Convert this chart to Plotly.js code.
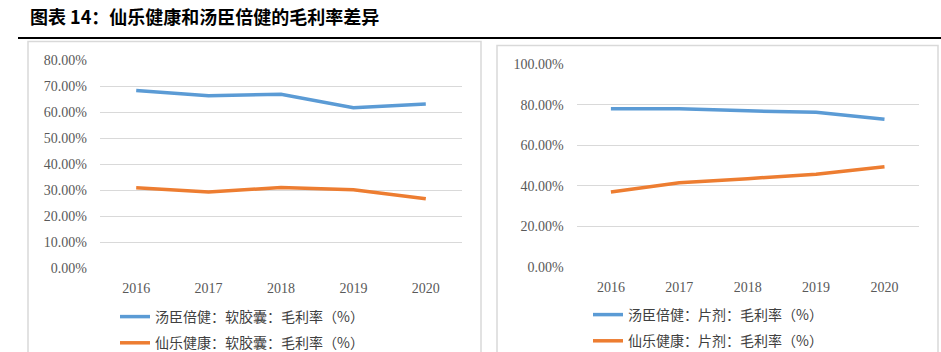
<!DOCTYPE html>
<html>
<head>
<meta charset="utf-8">
<script src="https://cdn.plot.ly/plotly-3.0.1.min.js"></script>
<style>html,body{margin:0;padding:0;background:#fff;}#chart{width:941px;height:352px;}</style>
</head>
<body>
<div id="chart"></div>
<script>
const years = ['2016', '2017', '2018', '2019', '2020'];
// 软胶囊 gross margin (%)
const byHealthSoftgel = [68.3, 66.3, 66.8, 61.7, 63.1];
const sirioSoftgel = [30.9, 29.3, 31.0, 30.2, 26.7];
// 片剂 gross margin (%)
const byHealthTablet = [78.0, 78.1, 77.0, 76.3, 72.9];
const sirioTablet = [36.9, 41.5, 43.5, 45.7, 49.4];

const seriesNames = {
  bhSoft: '汤臣倍健：软胶囊：毛利率（%）',
  sSoft: '仙乐健康：软胶囊：毛利率（%）',
  bhTab: '汤臣倍健：片剂：毛利率（%）',
  sTab: '仙乐健康：片剂：毛利率（%）'
};
const leftTicks = [0, 10, 20, 30, 40, 50, 60, 70, 80];
const rightTicks = [0, 20, 40, 60, 80, 100];
const leftTickText = leftTicks.map(v => v.toFixed(2) + '%');
const rightTickText = rightTicks.map(v => v.toFixed(2) + '%');

const W = 941, H = 352;
const px = v => v / W, py = v => 1 - v / H;

const BLUE = '#5b9bd5', ORANGE = '#ed7d31';
const serif = 'Liberation Serif, Noto Sans CJK SC, serif';
const cjk = 'Noto Sans CJK SC, sans-serif';

const traces = [
  {x: years, y: byHealthSoftgel, name: seriesNames.bhSoft, type: 'scatter', mode: 'lines',
   line: {color: BLUE, width: 3.5}, xaxis: 'x', yaxis: 'y', legend: 'legend', legendgroup: 'a'},
  {x: years, y: sirioSoftgel, name: seriesNames.sSoft, type: 'scatter', mode: 'lines',
   line: {color: ORANGE, width: 3.5}, xaxis: 'x', yaxis: 'y', legend: 'legend', legendgroup: 'b'},
  {x: years, y: byHealthTablet, name: seriesNames.bhTab, type: 'scatter', mode: 'lines',
   line: {color: BLUE, width: 3.5}, xaxis: 'x2', yaxis: 'y2', legend: 'legend2', legendgroup: 'c'},
  {x: years, y: sirioTablet, name: seriesNames.sTab, type: 'scatter', mode: 'lines',
   line: {color: ORANGE, width: 3.5}, xaxis: 'x2', yaxis: 'y2', legend: 'legend2', legendgroup: 'd'}
];

const tickFont = {family: serif, size: 14, color: '#595959'};
const legendFont = {family: cjk, size: 14, color: '#404040'};

const layout = {
  width: W, height: H,
  margin: {l: 0, r: 0, t: 0, b: 0, autoexpand: false},
  paper_bgcolor: '#fff', plot_bgcolor: 'rgba(0,0,0,0)',
  showlegend: true,
  title: {text: '<b>图表 14：仙乐健康和汤臣倍健的毛利率差异</b>', x: px(30), xanchor: 'left',
          y: py(18), yanchor: 'middle', font: {family: cjk, size: 18, color: '#000'}},
  xaxis: {domain: [px(100), px(462)], type: 'category', range: [-0.5, 4.5], showgrid: false, zeroline: false,
          showline: false, ticks: '', tickfont: tickFont, ticklabelstandoff: 10},
  yaxis: {domain: [py(268.3), py(60)], range: [0, 80], tickvals: leftTicks, ticktext: leftTickText,
          showgrid: true, gridcolor: '#d9d9d9', gridwidth: 1,
          zeroline: false, showline: false, ticks: '', tickfont: tickFont, ticklabelstandoff: 12},
  xaxis2: {domain: [px(576.7), px(918.7)], type: 'category', range: [-0.5, 4.5], showgrid: false, zeroline: false,
           showline: false, ticks: '', tickfont: tickFont, anchor: 'y2', ticklabelstandoff: 10},
  yaxis2: {domain: [py(266.7), py(64.3)], range: [0, 100], tickvals: rightTicks, ticktext: rightTickText,
           showgrid: true, gridcolor: '#d9d9d9', gridwidth: 1,
           zeroline: false, showline: false, ticks: '', tickfont: tickFont, anchor: 'x2', ticklabelstandoff: 12},
  legend: {x: px(115), xanchor: 'left', y: py(301), yanchor: 'top', orientation: 'v',
           font: legendFont, bgcolor: 'rgba(0,0,0,0)', traceorder: 'grouped', tracegroupgap: 5},
  legend2: {x: px(588), xanchor: 'left', y: py(299), yanchor: 'top', orientation: 'v',
            font: legendFont, bgcolor: 'rgba(0,0,0,0)', traceorder: 'grouped', tracegroupgap: 5},
  shapes: [
    {type: 'line', xref: 'paper', yref: 'paper', x0: px(18), x1: 1, y0: py(38), y1: py(38),
     line: {color: '#000', width: 2}},
    {type: 'rect', xref: 'paper', yref: 'paper', x0: px(28), x1: px(481), y0: py(360), y1: py(41.5),
     line: {color: '#d9d9d9', width: 1.5}},
    {type: 'rect', xref: 'paper', yref: 'paper', x0: px(497), x1: px(938), y0: py(360), y1: py(45.5),
     line: {color: '#d9d9d9', width: 1.5}}
  ]
};

Plotly.newPlot('chart', traces, layout, {staticPlot: true, displayModeBar: false});
</script>
</body>
</html>
